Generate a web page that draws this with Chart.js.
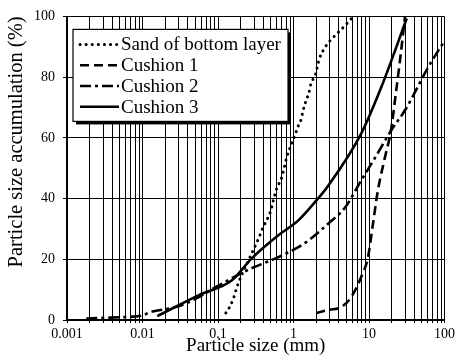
<!DOCTYPE html>
<html>
<head>
    <title>Particle size distribution</title>
    <script src="https://cdn.jsdelivr.net/npm/chart.js"></script>
    <style>
        body { margin: 0; background: #fff; }
        #wrap { width: 458px; height: 357px; }
    </style>
</head>
<body>
    <div id="wrap"><canvas id="psd" width="458" height="357"></canvas></div>
<script>
// values (x in mm, y in %)
let sandX = [0.127, 0.147, 0.162, 0.178, 0.2, 0.22, 0.28, 0.35, 0.39, 0.44, 0.5, 0.54, 0.6, 0.7, 0.81, 0.94, 1.06, 1.16, 1.26, 1.34, 1.48, 1.6, 1.7, 1.96, 2.2, 2.5, 3.0, 3.8, 5.0, 6.2];
let sandY = [2.3, 4.9, 7.5, 10.8, 14.1, 16.4, 22, 27.2, 30.2, 32.8, 36, 39.3, 43.3, 47, 53.4, 58, 61.3, 64, 66, 69, 72.5, 74.8, 77.7, 81, 86, 89, 91.8, 94.4, 97.4, 100];

let cushion1X = [2.0, 2.9, 4.3, 5.8, 7.85, 9.7, 11.3, 13.1, 16.2, 19.5, 22.6, 26.3, 30];
let cushion1Y = [2.3, 3.3, 4.3, 7.5, 14.1, 20.7, 31.8, 42.6, 53.4, 62.3, 74.4, 87.5, 100];

let cushion2X = [0.0018, 0.003, 0.006, 0.01, 0.0124, 0.03, 0.06, 0.093, 0.26, 0.58, 1.16, 1.58, 2.9, 4.8, 7.85, 12, 19.5, 30.7, 60, 100];
let cushion2Y = [0.5, 0.7, 1.0, 1.5, 2.5, 4.5, 8, 10.8, 16.7, 20.3, 24, 26.2, 31.8, 37, 45.9, 53.4, 62.3, 69.5, 83, 92];

let cushion3X = [0.0157, 0.056, 0.153, 0.28, 0.63, 1.16, 2.0, 2.9, 7.85, 14.4, 31.6];
let cushion3Y = [1.3, 8.2, 13.1, 20.3, 27.9, 32.8, 39.3, 44.3, 61.3, 76.4, 99.3];

let seriesNames = ['Sand of bottom layer', 'Cushion 1', 'Cushion 2', 'Cushion 3'];
let decadeLabels = ['0.001', '0.01', '0.1', '1', '10', '100'];
let yTicks = [0, 20, 40, 60, 80, 100];

function toPoints(xs, ys) {
    return xs.map((x, i) => ({ x: x, y: ys[i] }));
}

const serif = 'Liberation Serif';

// legend drawn as a boxed panel inside the plot, like the original
const boxLegend = {
    id: 'boxLegend',
    afterDraw(chart) {
        const ctx = chart.ctx;
        const a = chart.chartArea;
        const bx = a.left + 6, by = a.top + 13, bw = 215, bh = 92;
        ctx.save();
        ctx.fillStyle = '#000';
        ctx.fillRect(bx + 3, by + 3, bw, bh);
        ctx.fillStyle = '#fff';
        ctx.fillRect(bx, by, bw, bh);
        ctx.strokeStyle = '#000';
        ctx.lineWidth = 1.2;
        ctx.strokeRect(bx, by, bw, bh);
        ctx.font = '19px ' + serif;
        ctx.textBaseline = 'middle';
        chart.data.datasets.forEach((ds, i) => {
            const yy = by + 15 + i * 20.8;
            ctx.beginPath();
            ctx.setLineDash(ds.borderDash || []);
            ctx.lineCap = ds.borderCapStyle || 'butt';
            ctx.lineWidth = ds.borderWidth;
            ctx.moveTo(bx + 7, yy);
            ctx.lineTo(bx + 46, yy);
            ctx.stroke();
            ctx.setLineDash([]);
            ctx.fillStyle = '#000';
            ctx.fillText(ds.label, bx + 48, yy + 1);
        });
        ctx.restore();
    }
};

const ctx = document.getElementById('psd').getContext('2d');
const psdChart = new Chart(ctx, {
    type: 'line',
    data: {
        datasets: [{
            label: seriesNames[0],
            data: toPoints(sandX, sandY),
            borderColor: '#000',
            borderWidth: 3,
            borderDash: [0.1, 6],
            borderCapStyle: 'round',
            pointRadius: 0,
            cubicInterpolationMode: 'monotone'
        }, {
            label: seriesNames[1],
            data: toPoints(cushion1X, cushion1Y),
            borderColor: '#000',
            borderWidth: 2.6,
            borderDash: [9, 5],
            pointRadius: 0,
            cubicInterpolationMode: 'monotone'
        }, {
            label: seriesNames[2],
            data: toPoints(cushion2X, cushion2Y),
            borderColor: '#000',
            borderWidth: 2.6,
            borderDash: [11, 4, 3, 4],
            pointRadius: 0,
            cubicInterpolationMode: 'monotone'
        }, {
            label: seriesNames[3],
            data: toPoints(cushion3X, cushion3Y),
            borderColor: '#000',
            borderWidth: 2.6,
            pointRadius: 0,
            cubicInterpolationMode: 'monotone'
        }]
    },
    options: {
        responsive: false,
        animation: false,
        layout: { padding: { top: 15, right: 11, left: 0, bottom: 0 } },
        plugins: {
            legend: { display: false },
            tooltip: { enabled: false }
        },
        scales: {
            x: {
                type: 'logarithmic',
                min: 0.001,
                max: 100,
                afterBuildTicks(scale) {
                    const t = [];
                    for (let e = -3; e <= 1; e++) {
                        for (let s = 1; s <= 9; s++) {
                            t.push({ value: s * Math.pow(10, e) });
                        }
                    }
                    t.push({ value: 100 });
                    scale.ticks = t;
                },
                afterFit(scale) { scale.height = 37; },
                ticks: {
                    autoSkip: false,
                    maxRotation: 0,
                    padding: 3,
                    color: '#000',
                    font: { family: serif, size: 14 },
                    callback: function (value) {
                        const lg = Math.log10(value);
                        if (Math.abs(lg - Math.round(lg)) < 1e-6) {
                            return decadeLabels[Math.round(lg) + 3];
                        }
                        return '';
                    }
                },
                grid: { color: '#000', lineWidth: 1, tickLength: 3 },
                border: { color: '#000', width: 1.5 },
                title: {
                    display: true,
                    text: 'Particle size (mm)',
                    color: '#000',
                    font: { family: serif, size: 19 },
                    padding: { top: -4, bottom: 0 }
                }
            },
            y: {
                min: 0,
                max: 100,
                afterBuildTicks(scale) {
                    scale.ticks = yTicks.map(v => ({ value: v }));
                },
                afterFit(scale) { scale.width = 67; },
                ticks: {
                    color: '#000',
                    padding: 8,
                    font: { family: serif, size: 14 }
                },
                grid: { color: '#000', lineWidth: 1, tickLength: 4 },
                border: { color: '#000', width: 1.5 },
                title: {
                    display: true,
                    text: 'Particle size accumulation (%)',
                    align: 'end',
                    color: '#000',
                    font: { family: serif, size: 20.5 },
                    padding: { top: 4, bottom: 8 }
                }
            }
        }
    },
    plugins: [boxLegend]
});
</script>
</body>
</html>
